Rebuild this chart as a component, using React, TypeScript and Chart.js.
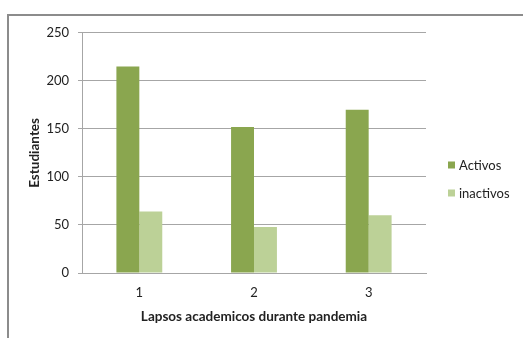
import React, { useEffect, useRef } from "react";
import { Chart, registerables } from "chart.js";

Chart.register(...registerables);

const categories = ["1", "2", "3"];
const activos = [215, 152, 170];
const inactivos = [64, 48, 60];
const seriesNames = ["Activos", "inactivos"];
const seriesColors = ["#8aa64f", "#bcd197"];
const yTicks = { min: 0, max: 250, step: 50 };

const FONT = "Lato, 'Liberation Sans', sans-serif";
const TEXT = "#222222";
const GRID = "#a6a6a6";

// Vertical legend drawn to the right of the plot area
const sideLegend = {
  id: "sideLegend",
  afterDraw(chart: any) {
    const { ctx, chartArea } = chart;
    const items = chart.data.datasets;
    const gap = 28;
    const cy = chart.height / 2 + 2 - ((items.length - 1) * gap) / 2;
    ctx.save();
    ctx.font = `13px ${FONT}`;
    ctx.textBaseline = "middle";
    ctx.textAlign = "left";
    items.forEach((ds: any, i: number) => {
      const y = cy + i * gap;
      const x = chartArea.right + 22;
      ctx.fillStyle = ds.backgroundColor;
      ctx.fillRect(x, y - 3.5, 7, 7);
      ctx.fillStyle = TEXT;
      ctx.fillText(ds.label, x + 11, y + 0.5);
    });
    ctx.restore();
  },
};

export default function App() {
  const ref = useRef<HTMLCanvasElement | null>(null);

  useEffect(() => {
    if (!ref.current) return;
    const chart = new Chart(ref.current, {
      type: "bar",
      data: {
        labels: categories,
        datasets: [
          { label: seriesNames[0], data: activos, backgroundColor: seriesColors[0] },
          { label: seriesNames[1], data: inactivos, backgroundColor: seriesColors[1] },
        ],
      },
      options: {
        responsive: false,
        animation: false,
        layout: { padding: { top: 16, right: 97, left: 0, bottom: 0 } },
        datasets: { bar: { categoryPercentage: 0.4, barPercentage: 1 } },
        plugins: { legend: { display: false }, tooltip: { enabled: false } },
        scales: {
          x: {
            afterFit: (s: any) => {
              s.height = 65;
            },
            grid: { display: true, drawOnChartArea: false, drawTicks: false },
            border: { display: true, color: GRID, width: 1 },
            ticks: { color: TEXT, font: { family: FONT, size: 13 }, padding: 12 },
            title: {
              display: true,
              text: "Lapsos academicos durante pandemia",
              color: TEXT,
              font: { family: FONT, size: 13.5, weight: "bold" },
              padding: { top: 0, bottom: 13 },
            },
          },
          y: {
            min: yTicks.min,
            max: yTicks.max,
            afterFit: (s: any) => {
              s.width = 73;
            },
            grid: { color: GRID, tickLength: 4, drawTicks: true },
            border: { display: true, color: GRID, width: 1 },
            ticks: {
              stepSize: yTicks.step,
              color: TEXT,
              font: { family: FONT, size: 13 },
              padding: 9,
            },
            title: {
              display: true,
              text: "Estudiantes",
              color: TEXT,
              font: { family: FONT, size: 13.5, weight: "bold" },
              padding: { top: 18, bottom: 0 },
            },
          },
        },
      },
      plugins: [sideLegend],
    });
    return () => chart.destroy();
  }, []);

  return (
    <div
      style={{
        position: "fixed",
        left: 7,
        top: 14,
        width: 540,
        height: 360,
        borderTop: "2px solid #8c8c8c",
        borderLeft: "2px solid #8c8c8c",
        background: "#fff",
      }}
    >
      <canvas ref={ref} width={514} height={322} style={{ display: "block" }} />
    </div>
  );
}
